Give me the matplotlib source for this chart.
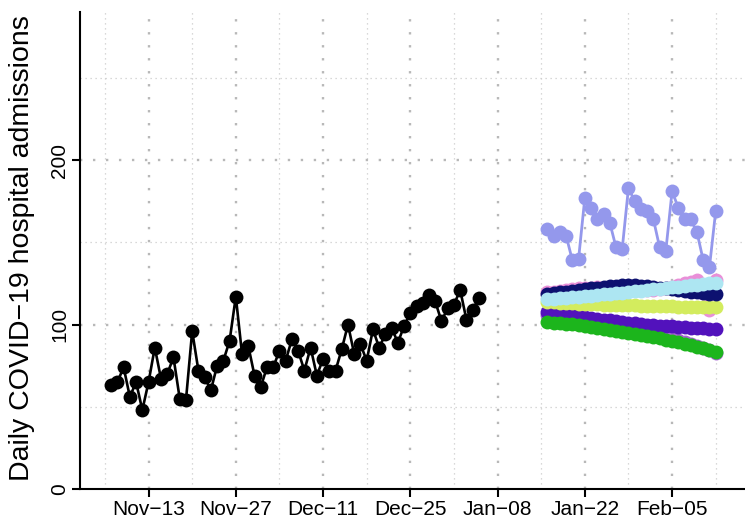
import matplotlib
matplotlib.use("Agg")
import matplotlib.pyplot as plt
import matplotlib.dates as mdates
import pandas as pd

# observed admissions, one per day from Nov 7
obs_start = "2020-11-07"
observed = [63, 65, 74, 56, 65, 48, 65, 86, 67, 70, 80, 55, 54, 96, 72, 68, 60,
            75, 78, 90, 117, 82, 87, 69, 62, 74, 74, 84, 78, 91, 84, 72, 86, 69,
            79, 72, 72, 85, 100, 82, 88, 78, 97, 86, 94, 98, 89, 99, 107, 111,
            113, 118, 114, 102, 110, 112, 121, 103, 109, 116]

# forecasts, one per day from Jan 16
fc_start = "2021-01-16"
fc_lavender = [158, 154, 156, 154, 139, 140, 177, 171, 164, 167, 162, 147, 146,
               183, 175, 170, 169, 164, 147, 145, 181, 171, 164, 164, 156, 139,
               135, 169]
fc_pink = [119.5, 120, 120.5, 121, 121.5, 122, 122.5, 122.5, 123, 122.5, 122,
           122, 121.5, 121.5, 121.5, 121, 121, 121, 121.5, 122, 123, 124, 125,
           126, 127, 119, 109, 127]
fc_mpurple = [106, 105.5, 105, 104.5, 104, 103.5, 103, 102.5, 102, 101.5, 101,
              100.3, 99.5, 98.7, 97.8, 96.8, 95.8, 94.8, 93.8, 92.7, 91.6, 90.5,
              89.3, 88.1, 86.9, 85.7, 84.4, 82.5]
fc_indigo = [107.5, 107, 106.5, 106, 105.5, 105, 104.5, 104, 103.5, 103, 102.5,
             102, 101.6, 101.2, 100.8, 100.4, 100, 99.7, 99.4, 99.1, 98.8, 98.5,
             98.2, 98, 97.8, 97.6, 97.4, 97.2]
fc_green = [101.5, 101.2, 100.9, 100.5, 100.1, 99.6, 99.1, 98.6, 98, 97.4, 96.8,
            96.2, 95.6, 95, 94.4, 93.7, 93, 92.3, 91.6, 90.8, 90, 89.2, 88.4,
            87.6, 86.6, 85.6, 84.6, 83.5]
fc_yellow = [113.5, 113.4, 113.2, 113, 112.9, 112.7, 112.5, 112.4, 112.3, 112.1,
             112, 111.9, 111.8, 111.7, 111.6, 111.5, 111.4, 111.3, 111.2, 111.1,
             111, 110.9, 110.8, 110.7, 110.6, 110.5, 110.5, 110.4]
fc_navy = [118.5, 119, 119.5, 120, 120.5, 121, 121.5, 122, 122.5, 123, 123.3,
           123.6, 123.8, 124, 123.8, 123.5, 123.2, 122.8, 122.4, 122, 121.5, 121,
           120.5, 120, 119.5, 119.2, 118.8, 118.5]
fc_cyan = [115.5, 115.8, 116.1, 116.4, 116.7, 117, 117.3, 117.6, 117.9, 118.3,
           118.7, 119, 119.4, 119.8, 120.2, 120.6, 121, 121.4, 121.8, 122.2,
           122.6, 123, 123.4, 123.8, 124.2, 124.6, 125, 125.4]

forecasts = [
    (fc_lavender, "#9498EC"),
    (fc_pink, "#E98FD8"),
    (fc_mpurple, "#A662D2"),
    (fc_indigo, "#5212BC"),
    (fc_green, "#1CB51C"),
    (fc_yellow, "#D3EC5E"),
    (fc_navy, "#0D1170"),
    (fc_cyan, "#ADE6F2"),
]

tick_dates = ["2020-11-13", "2020-11-27", "2020-12-11", "2020-12-25",
              "2021-01-08", "2021-01-22", "2021-02-05"]
ylab = "Daily COVID\u221219 hospital admissions"

plt.rcParams["font.family"] = ["Liberation Sans", "DejaVu Sans"]

fig = plt.figure(figsize=(7.45, 5.18), dpi=100)
W, H = 745, 518
ax = fig.add_axes([80 / W, (H - 489) / H, (W - 80) / W, (489 - 12) / H])

ref = pd.Timestamp("2020-11-13")
ax.set_xlim(mdates.date2num(ref - pd.Timedelta(days=11.0)),
            mdates.date2num(ref + pd.Timedelta(days=95.7)))
ax.set_ylim(0, 290)

# grid: weekly verticals, 50-unit horizontals; labelled ones darker
weeks = pd.date_range("2020-11-06", "2021-02-12", freq="7D")
for d in weeks:
    major = d.strftime("%Y-%m-%d") in tick_dates
    ax.axvline(mdates.date2num(d), color="#B8B8B8" if major else "#CCCCCC",
               lw=1.7 if major else 0.9,
               ls=(0, (1, 4.5)) if major else (0, (1, 3)), zorder=0)
for v in [50, 100, 150, 200, 250]:
    major = v % 100 == 0
    ax.axhline(v, color="#B8B8B8" if major else "#CCCCCC",
               lw=1.7 if major else 0.9,
               ls=(0, (1, 4.5)) if major else (0, (1, 3)), zorder=0)

obs_dates = pd.date_range(obs_start, periods=len(observed), freq="D")
fc_dates = pd.date_range(fc_start, periods=len(fc_lavender), freq="D")

for vals, col in forecasts:
    ax.plot(fc_dates, vals, color=col, lw=2, marker="o", ms=10,
            markeredgewidth=0, zorder=2)

ax.plot(obs_dates, observed, color="black", lw=1.9, marker="o", ms=10,
        markeredgewidth=0, zorder=3)

ax.set_xticks([mdates.date2num(pd.Timestamp(t)) for t in tick_dates])
ax.set_xticklabels([pd.Timestamp(t).strftime("%b\u2212%d") for t in tick_dates],
                   fontsize=15)
ax.set_yticks([0, 100, 200])
ax.set_yticklabels(["0", "100", "200"], fontsize=15, rotation=90, va="center")
ax.tick_params(axis="both", length=6, width=1.5, color="black", pad=2)

for s in ["top", "right"]:
    ax.spines[s].set_visible(False)
for s in ["left", "bottom"]:
    ax.spines[s].set_linewidth(1.5)

fig.text(22 / W, 1 - 248 / H, ylab, rotation=90, ha="center", va="center",
         fontsize=20.5)

fig.savefig("out.png", dpi=100)
